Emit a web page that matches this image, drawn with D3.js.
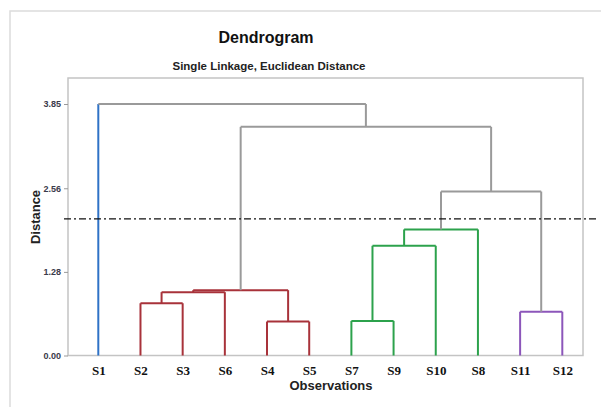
<!DOCTYPE html>
<html>
<head>
<meta charset="utf-8">
<script src="https://cdn.jsdelivr.net/npm/d3@7"></script>
<style>
  body { margin: 0; background: #fff; }
  svg { display: block; }
</style>
</head>
<body>
<div id="chart"></div>
<script>
// leaf order
const leaves = ['S1', 'S2', 'S3', 'S6', 'S4', 'S5', 'S7', 'S9', 'S10', 'S8', 'S11', 'S12'];

// merges: [left child, right child, distance, cluster colour key]
const mergeLeft = ['S2', 'S4', 'C1', 'C3', 'S7', 'C5', 'C6', 'S11', 'C7', 'C4', 'S1'];
const mergeRight = ['S3', 'S5', 'S6', 'C2', 'S9', 'S10', 'S8', 'S12', 'C8', 'C9', 'C10'];
const mergeHeight = [0.80, 0.52, 0.97, 1.00, 0.53, 1.68, 1.93, 0.67, 2.51, 3.50, 3.85];
const mergeGroup = ['red', 'red', 'red', 'red', 'green', 'green', 'green', 'purple', 'gray', 'gray', 'gray'];

// single observation that forms its own cluster
const singletonGroup = { S1: 'blue' };

const yTicks = [0, 1.28, 2.56, 3.85];
const cutHeight = 2.09;

const colors = {
  red: '#a8323a',
  green: '#2ca24c',
  purple: '#8c56ba',
  gray: '#9a9a9a',
  blue: '#2f72c6'
};

const width = 601;
const height = 407;
const plot = { left: 68, right: 583, top: 78, bottom: 355.5 };

const svg = d3.select('#chart').append('svg')
  .attr('width', width)
  .attr('height', height);

// outer frame (only top and left edges visible)
svg.append('path')
  .attr('d', `M10,${height} V11 H${width}`)
  .attr('fill', 'none')
  .attr('stroke', '#dcdcdc')
  .attr('stroke-width', 1.5);

svg.append('text')
  .attr('x', 266)
  .attr('y', 43)
  .attr('text-anchor', 'middle')
  .style('font', 'bold 16px "Liberation Sans", Arial, sans-serif')
  .style('fill', '#111')
  .text('Dendrogram');

svg.append('text')
  .attr('x', 269)
  .attr('y', 70)
  .attr('text-anchor', 'middle')
  .style('font', 'bold 11.5px "Liberation Sans", Arial, sans-serif')
  .style('fill', '#222')
  .text('Single Linkage, Euclidean Distance');

const x = d3.scalePoint()
  .domain(leaves)
  .range([98.3, 562.3]);

const y = d3.scaleLinear()
  .domain([0, 3.85])
  .range([plot.bottom, 104]);

// plot frame
svg.append('rect')
  .attr('x', plot.left)
  .attr('y', plot.top)
  .attr('width', plot.right - plot.left)
  .attr('height', plot.bottom - plot.top)
  .attr('fill', 'none')
  .attr('stroke', '#c4c4c4')
  .attr('stroke-width', 1.5);

const yAxis = svg.append('g')
  .attr('transform', `translate(${plot.left},0)`)
  .call(d3.axisLeft(y).tickValues(yTicks).tickSize(4).tickPadding(3).tickFormat(d3.format('.2f')));
yAxis.select('.domain').remove();
yAxis.selectAll('line').attr('stroke', '#999');
yAxis.selectAll('text')
  .style('font', 'bold 9px "Liberation Sans", Arial, sans-serif')
  .style('fill', '#3a3a4a');

const xAxis = svg.append('g')
  .attr('transform', `translate(0,${plot.bottom})`)
  .call(d3.axisBottom(x).tickSize(0).tickPadding(10));
xAxis.select('.domain').remove();
xAxis.selectAll('text')
  .style('font', 'bold 13px "Liberation Serif", "Times New Roman", serif')
  .style('fill', '#111');

svg.append('text')
  .attr('transform', 'translate(40,217) rotate(-90)')
  .attr('text-anchor', 'middle')
  .style('font', 'bold 13px "Liberation Sans", Arial, sans-serif')
  .style('fill', '#222')
  .text('Distance');

svg.append('text')
  .attr('x', 331)
  .attr('y', 390)
  .attr('text-anchor', 'middle')
  .style('font', 'bold 13px "Liberation Sans", Arial, sans-serif')
  .style('fill', '#222')
  .text('Observations');

// node positions: leaves from the scale, clusters from their children
const pos = {};
leaves.forEach(s => { pos[s] = { x: x(s), h: 0 }; });

const links = svg.append('g')
  .attr('fill', 'none')
  .attr('stroke-width', 2)
  .attr('stroke-linejoin', 'round');

mergeHeight.forEach((h, i) => {
  const a = pos[mergeLeft[i]];
  const b = pos[mergeRight[i]];
  const col = colors[mergeGroup[i]];
  pos['C' + (i + 1)] = { x: (a.x + b.x) / 2, h };

  [[mergeLeft[i], a], [mergeRight[i], b]].forEach(([name, c]) => {
    links.append('line')
      .attr('x1', c.x).attr('x2', c.x)
      .attr('y1', y(c.h)).attr('y2', y(h))
      .attr('stroke', singletonGroup[name] ? colors[singletonGroup[name]] : col);
  });

  links.append('line')
    .attr('x1', a.x).attr('x2', b.x)
    .attr('y1', y(h)).attr('y2', y(h))
    .attr('stroke', col);
});

// cut line
svg.append('line')
  .attr('x1', 64)
  .attr('x2', 598)
  .attr('y1', y(cutHeight))
  .attr('y2', y(cutHeight))
  .attr('stroke', '#111')
  .attr('stroke-width', 1.2)
  .attr('stroke-dasharray', '7,3,2,3');
</script>
</body>
</html>
